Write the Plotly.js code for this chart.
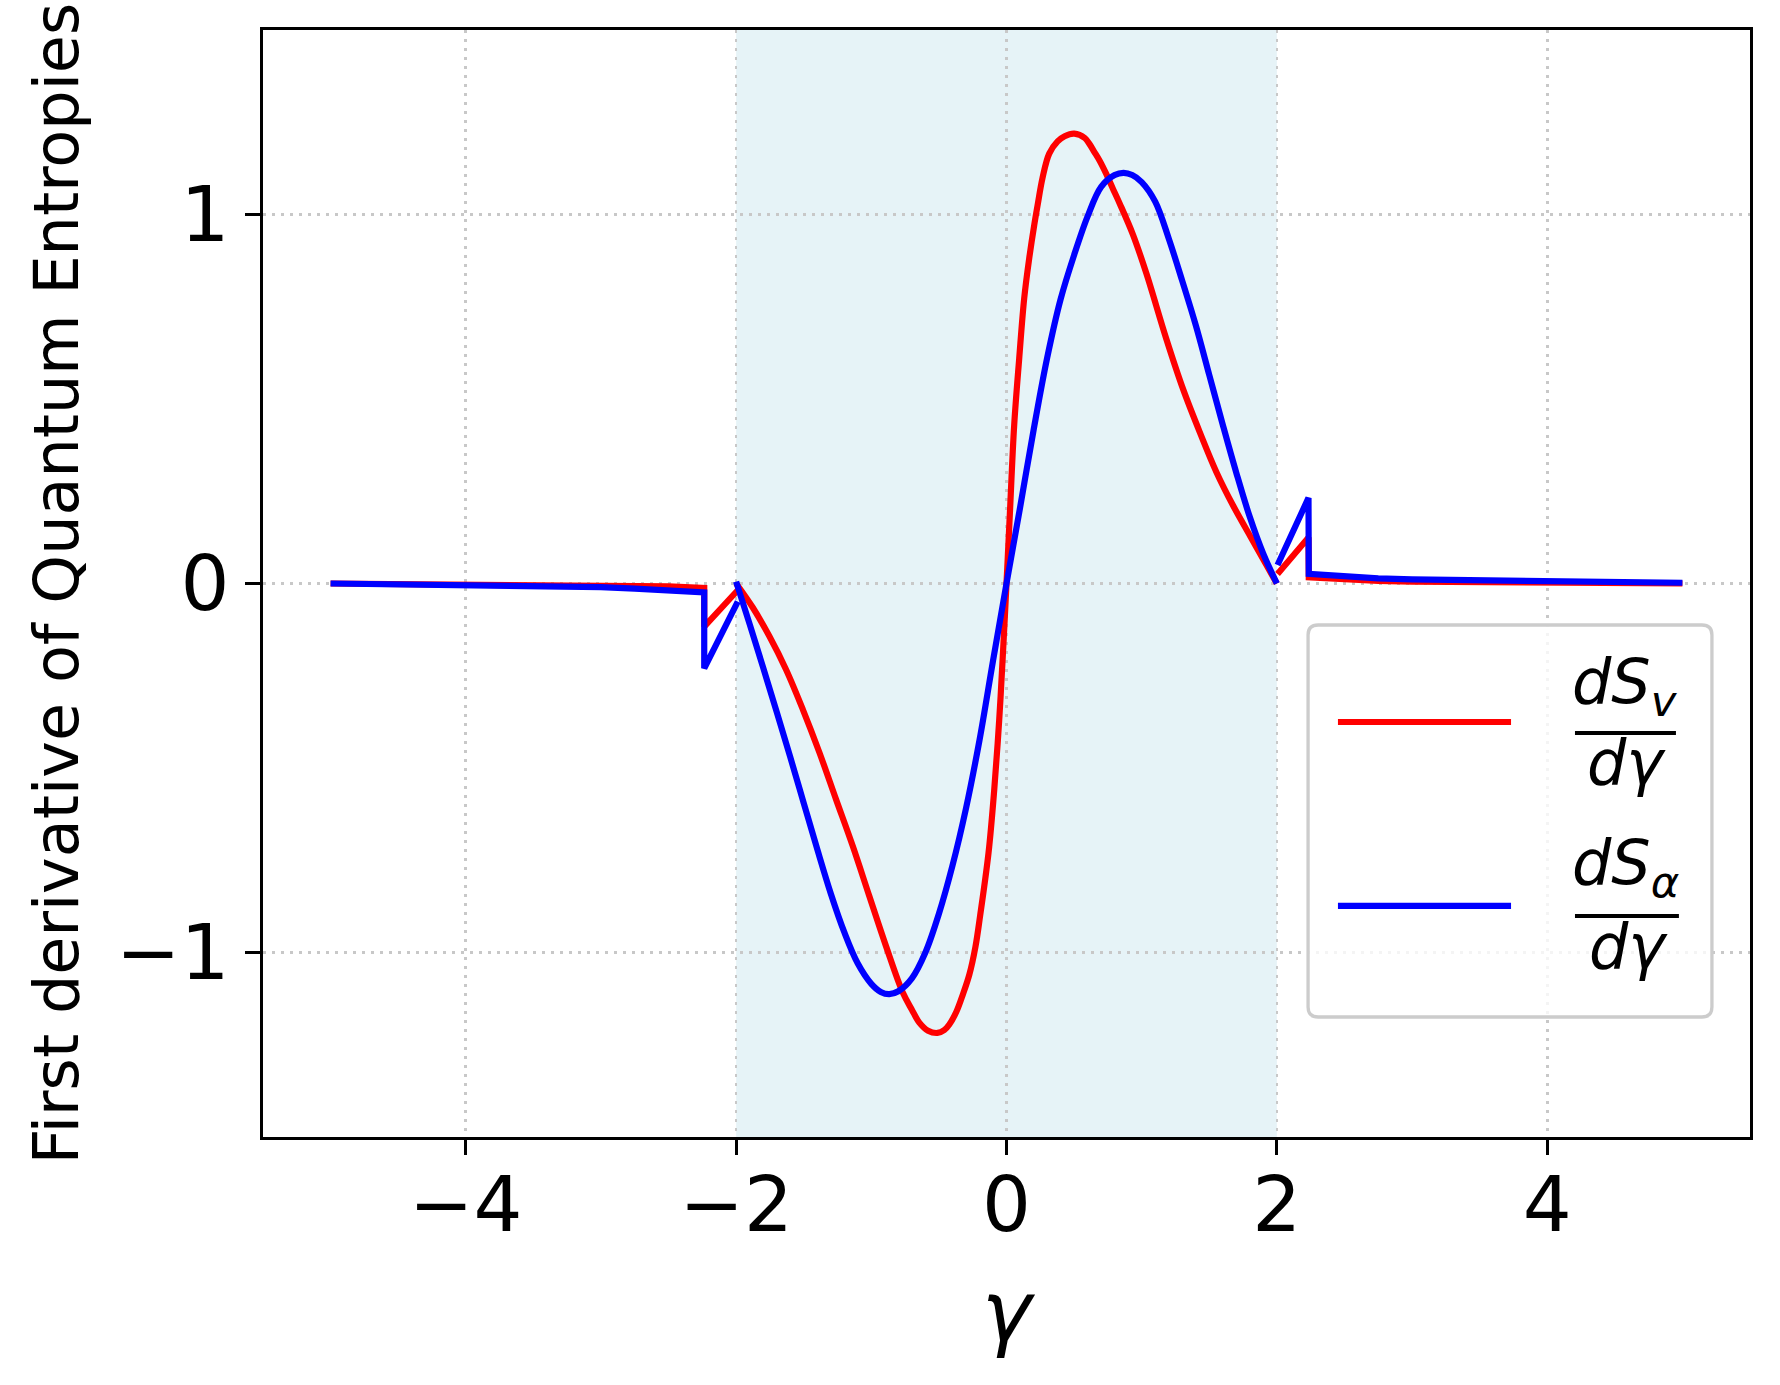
<!DOCTYPE html>
<html>
<head>
<meta charset="utf-8">
<script src="https://cdn.plot.ly/plotly-3.0.1.min.js"></script>
<style>
  body { margin: 0; background: #fff; }
  #plot { width: 1780px; height: 1385px; }
</style>
</head>
<body>
<div id="plot"></div>
<script>
// gamma values and first derivative of the von Neumann entropy (red)
// null entries split the curve where the reference line is broken
const gammaV = [
  -5.0, -4.5, -4.0, -3.5, -3.0, -2.75, -2.5, -2.236,
  -2.236, -1.985,
  null,
  -2.0, -1.877, -1.754, -1.631, -1.507, -1.384, -1.261, -1.138, -1.015, -0.892,
  -0.768, -0.70, -0.645, -0.58, -0.511, -0.46, -0.423, -0.37, -0.324, -0.275,
  -0.23, -0.195, -0.133, -0.091, -0.054, -0.025, 0.0,
  0.025, 0.057, 0.094, 0.131, 0.168, 0.205, 0.23, 0.267, 0.316, 0.378, 0.43, 0.501,
  0.58, 0.612, 0.649, 0.69, 0.738, 0.787, 0.837, 0.936, 1.035, 1.183, 1.307, 1.431,
  1.554, 1.678, 1.802, 1.926, 2.0,
  null,
  2.005, 2.234, 2.236, 2.5, 2.75, 3.0, 3.5, 4.0, 4.5, 5.0
];
const dSv = [
  0.0, -0.001, -0.001, -0.002, -0.003, -0.005, -0.008, -0.012,
  -0.117, -0.017,
  null,
  0.0, -0.065, -0.143, -0.233, -0.341, -0.458, -0.585, -0.711, -0.847, -0.982,
  -1.108, -1.155, -1.19, -1.212, -1.218, -1.21, -1.195, -1.16, -1.115, -1.06,
  -0.985, -0.9, -0.73, -0.56, -0.37, -0.18, 0.0,
  0.19, 0.43, 0.61, 0.773, 0.881, 0.971, 1.025, 1.1, 1.165, 1.198, 1.212, 1.219,
  1.207, 1.192, 1.17, 1.145, 1.11, 1.07, 1.03, 0.945, 0.84, 0.662, 0.526, 0.409,
  0.301, 0.21, 0.129, 0.048, 0.0,
  null,
  0.026, 0.125, 0.017, 0.01, 0.007, 0.005, 0.003, 0.002, 0.001, 0.0
];

// gamma values and first derivative of the alpha entropy (blue)
const gammaA = [
  -5.0, -4.5, -4.0, -3.5, -3.0, -2.75, -2.5, -2.236,
  -2.236, -1.988,
  null,
  -2.0, -1.9, -1.8, -1.7, -1.6, -1.5, -1.4, -1.3, -1.2, -1.1, -1.0, -0.93, -0.867,
  -0.8, -0.7, -0.6, -0.5, -0.4, -0.3, -0.2, -0.1, 0.0,
  0.1, 0.2, 0.3, 0.4, 0.5, 0.6, 0.7, 0.8, 0.866, 0.93, 1.0, 1.1, 1.2, 1.3,
  1.4, 1.5, 1.6, 1.7, 1.8, 1.9, 2.0,
  null,
  2.005, 2.234, 2.236, 2.5, 2.75, 3.0, 3.5, 4.0, 4.5, 5.0
];
const dSa = [
  0.0, -0.002, -0.004, -0.007, -0.01, -0.014, -0.018, -0.024,
  -0.23, -0.049,
  null,
  0.005, -0.11, -0.228, -0.348, -0.47, -0.595, -0.72, -0.84, -0.945, -1.03, -1.085, -1.107, -1.113,
  -1.105, -1.07, -1.0, -0.895, -0.765, -0.61, -0.425, -0.21, 0.0,
  0.205, 0.415, 0.61, 0.77, 0.89, 0.995, 1.075, 1.107, 1.113, 1.107, 1.088, 1.035, 0.935, 0.82,
  0.70, 0.565, 0.43, 0.30, 0.18, 0.08, 0.0,
  null,
  0.05, 0.232, 0.026, 0.018, 0.014, 0.011, 0.008, 0.006, 0.003, 0.002
];

const xTicks = [-4, -2, 0, 2, 4];
const yTicks = [-1, 0, 1];
const region = [-2, 2]; // shaded gamma window

const font = "DejaVu Sans, Liberation Sans, sans-serif";

// split a curve at the nulls; the long middle piece is drawn smooth,
// the short pieces with the jumps stay straight
function pieces(xs, ys, color, name){
  let out = [];
  let cx = [], cy = [];
  for (let i = 0; i <= xs.length; i++){
    if (i === xs.length || xs[i] === null){
      out.push({
        x: cx, y: cy,
        mode: 'lines', type: 'scatter',
        line: {color: color, width: 6.2, shape: cx.length > 20 ? 'spline' : 'linear', smoothing: 1},
        showlegend: false, name: name
      });
      cx = []; cy = [];
    } else {
      cx.push(xs[i]); cy.push(ys[i]);
    }
  }
  return out;
}

let data = pieces(gammaV, dSv, '#ff0000', 'dSv/dγ').concat(pieces(gammaA, dSa, '#0000ff', 'dSα/dγ'));

// hand made legend (fractions), paper coordinates
let bx0 = 0.7028, bx1 = 0.9744, by0 = 0.1084, by1 = 0.4625;
let rx = 0.0067, ry = 0.009;
let boxPath = 'M' + (bx0+rx) + ',' + by1 + ' L' + (bx1-rx) + ',' + by1 +
  ' Q' + bx1 + ',' + by1 + ' ' + bx1 + ',' + (by1-ry) +
  ' L' + bx1 + ',' + (by0+ry) + ' Q' + bx1 + ',' + by0 + ' ' + (bx1-rx) + ',' + by0 +
  ' L' + (bx0+rx) + ',' + by0 + ' Q' + bx0 + ',' + by0 + ' ' + bx0 + ',' + (by0+ry) +
  ' L' + bx0 + ',' + (by1-ry) + ' Q' + bx0 + ',' + by1 + ' ' + (bx0+rx) + ',' + by1 + ' Z';

let shapes = [
  {type: 'rect', xref: 'x', yref: 'paper', x0: region[0], x1: region[1], y0: 0, y1: 1,
   fillcolor: 'rgba(173,216,230,0.3)', line: {width: 0}, layer: 'below'},
  {type: 'path', xref: 'paper', yref: 'paper', path: boxPath,
   fillcolor: 'rgba(255,255,255,0.8)', line: {color: '#cccccc', width: 3.3}, layer: 'above'},
  {type: 'line', xref: 'paper', yref: 'paper', x0: 0.7229, x1: 0.8393, y0: 0.3749, y1: 0.3749,
   line: {color: '#ff0000', width: 6.2}},
  {type: 'line', xref: 'paper', yref: 'paper', x0: 0.7229, x1: 0.8393, y0: 0.2087, y1: 0.2087,
   line: {color: '#0000ff', width: 6.2}},
  {type: 'line', xref: 'paper', yref: 'paper', x0: 0.8823, x1: 0.9502, y0: 0.365, y1: 0.365,
   line: {color: '#000000', width: 4}},
  {type: 'line', xref: 'paper', yref: 'paper', x0: 0.8823, x1: 0.9522, y0: 0.1996, y1: 0.1996,
   line: {color: '#000000', width: 4}}
];

let fracFont = {family: font, size: 62, color: '#000'};
let annotations = [
  {xref: 'paper', yref: 'paper', x: 0.9159, y: 0.408, text: '<i>dS<sub>v</sub></i>',
   showarrow: false, xanchor: 'center', yanchor: 'middle', font: fracFont},
  {xref: 'paper', yref: 'paper', x: 0.917, y: 0.338, text: '<i>dγ</i>',
   showarrow: false, xanchor: 'center', yanchor: 'middle', font: fracFont},
  {xref: 'paper', yref: 'paper', x: 0.9165, y: 0.2448, text: '<i>dS<sub>α</sub></i>',
   showarrow: false, xanchor: 'center', yanchor: 'middle', font: fracFont},
  {xref: 'paper', yref: 'paper', x: 0.918, y: 0.1725, text: '<i>dγ</i>',
   showarrow: false, xanchor: 'center', yanchor: 'middle', font: fracFont}
];

let axisCommon = {
  showline: true, mirror: true, linecolor: '#000', linewidth: 3,
  ticks: 'outside', ticklen: 15, tickwidth: 3, tickcolor: '#000',
  showgrid: true, gridcolor: '#c8c8c8', gridwidth: 2.6, griddash: '3px,6px',
  zeroline: false,
  tickfont: {family: font, size: 77, color: '#000'}
};

let layout = {
  width: 1780, height: 1385,
  margin: {l: 263, r: 30, t: 30, b: 248},
  paper_bgcolor: '#fff', plot_bgcolor: '#fff',
  font: {family: font, color: '#000'},
  xaxis: Object.assign({}, axisCommon, {
    range: [-5.5, 5.5], tickvals: xTicks,
    ticklabelstandoff: -16,
    title: {text: '<i>γ</i>', font: {family: font, size: 84, color: '#000'}, standoff: 34}
  }),
  yaxis: Object.assign({}, axisCommon, {
    range: [-1.5, 1.5], tickvals: yTicks,
    title: {text: 'First derivative of Quantum Entropies',
            font: {family: font, size: 62, color: '#000'}, standoff: 18}
  }),
  shapes: shapes,
  annotations: annotations,
  showlegend: false
};

Plotly.newPlot('plot', data, layout, {staticPlot: true});
</script>
</body>
</html>
